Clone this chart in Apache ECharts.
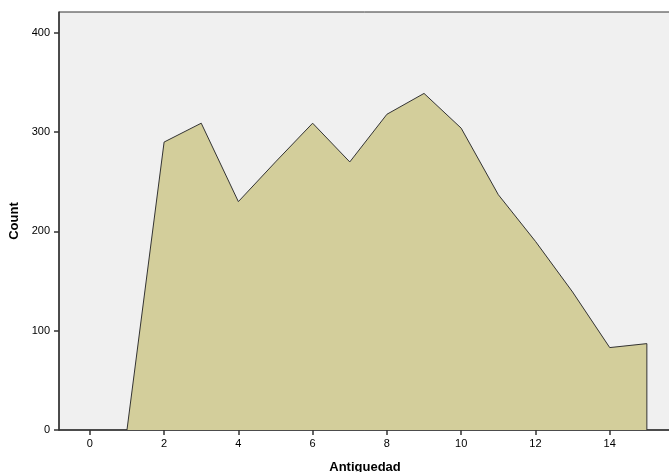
<!DOCTYPE html>
<html>
<head>
<meta charset="utf-8">
<script src="https://cdn.jsdelivr.net/npm/echarts@6/dist/echarts.min.js"></script>
<style>
  html, body { margin: 0; padding: 0; background: #fff; }
  #main { width: 669px; height: 472px; }
</style>
</head>
<body>
<div id="main"></div>
<script>
// Antiguedad (years) vs count
var antiguedad = [1, 2, 3, 4, 5, 6, 7, 8, 9, 10, 11, 12, 13, 14, 15];
var counts = [0, 290, 309, 230, 270, 309, 270, 318, 339, 304, 237, 190, 139, 83, 87];
var xTicks = [0, 2, 4, 6, 8, 10, 12, 14];
var yTicks = [0, 100, 200, 300, 400];

var points = [];
for (var i = 0; i < antiguedad.length; i++) {
    points.push([antiguedad[i], counts[i]]);
}
// close the area down to the baseline at the last category
points.push([antiguedad[antiguedad.length - 1], 0]);

var myChart = echarts.init(document.getElementById('main'));
var labelFont = { color: '#000', fontSize: 11, fontFamily: 'Liberation Sans' };

option = {
    backgroundColor: '#fff',
    animation: false,
    grid: {
        left: 59,
        top: 12,
        right: -2,
        bottom: 42,
        containLabel: false,
        outerBoundsMode: 'none',
        show: true,
        backgroundColor: '#f0f0f0',
        borderColor: '#333',
        borderWidth: 1
    },
    xAxis: {
        type: 'value',
        min: -0.83,
        max: 15.65,
        name: 'Antiguedad',
        nameLocation: 'middle',
        nameGap: 31,
        nameTextStyle: { color: '#000', fontSize: 13, fontWeight: 'bold', fontFamily: 'Liberation Sans' },
        splitLine: { show: false },
        axisLine: { show: true, onZero: false, lineStyle: { color: '#333', width: 1.5 } },
        axisTick: { show: true, length: 5, customValues: xTicks, lineStyle: { color: '#333', width: 1.5 } },
        axisLabel: Object.assign({ customValues: xTicks, margin: 8 }, labelFont)
    },
    yAxis: {
        type: 'value',
        min: 0,
        max: 421,
        name: 'Count',
        nameLocation: 'middle',
        nameGap: 35,
        nameTextStyle: { color: '#000', fontSize: 13, fontWeight: 'bold', fontFamily: 'Liberation Sans' },
        splitLine: { show: false },
        axisLine: { show: true, onZero: false, lineStyle: { color: '#333', width: 1.5 } },
        axisTick: { show: true, length: 5, customValues: yTicks, lineStyle: { color: '#333', width: 1.5 } },
        axisLabel: Object.assign({ customValues: yTicks, margin: 9 }, labelFont)
    },
    series: [
        {
            name: 'Count',
            type: 'line',
            data: points,
            symbol: 'none',
            lineStyle: { color: '#333', width: 1 },
            areaStyle: { color: '#d3ce9b', opacity: 1, origin: 0 }
        }
    ]
};

myChart.setOption(option);
</script>
</body>
</html>
